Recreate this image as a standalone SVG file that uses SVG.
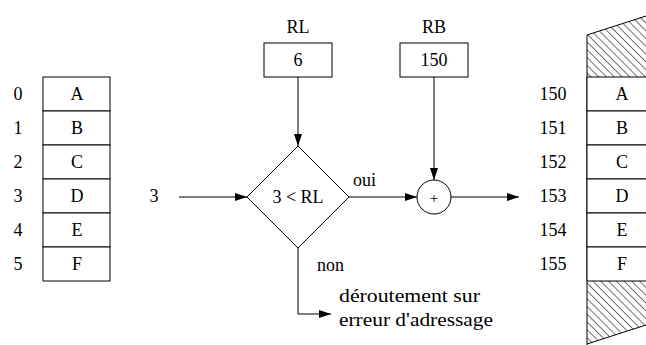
<svg xmlns="http://www.w3.org/2000/svg" width="646" height="345" viewBox="0 0 646 345">
<style>
text{font-family:Liberation Serif,serif;font-size:18px;fill:#000}
.c{text-anchor:middle}
.b{fill:#fff;stroke:#000;stroke-width:1}
.l{fill:none;stroke:#000;stroke-width:1}
</style>
<defs>
<marker id="ah" viewBox="0 0 12 8" refX="12" refY="4" markerWidth="12" markerHeight="8" markerUnits="userSpaceOnUse" orient="auto">
<path d="M0,0 L12,4 L0,8 Z" fill="#000"/>
</marker>
<pattern id="hatch" width="5.5" height="5.5" patternUnits="userSpaceOnUse" patternTransform="rotate(-45)">
<line x1="0" y1="0" x2="0" y2="5.5" stroke="#000" stroke-width="1.1"/>
</pattern>
</defs>
<rect width="646" height="345" fill="#fff"/>

<g id="mem-left">
<rect class="b" x="43" y="77" width="67" height="34"/>
<rect class="b" x="43" y="111" width="67" height="34"/>
<rect class="b" x="43" y="145" width="67" height="34"/>
<rect class="b" x="43" y="179" width="67" height="34"/>
<rect class="b" x="43" y="213" width="67" height="34"/>
<rect class="b" x="43" y="247" width="67" height="34"/>
<text class="c" x="77" y="100">A</text>
<text class="c" x="77" y="134">B</text>
<text class="c" x="77" y="168">C</text>
<text class="c" x="77" y="202">D</text>
<text class="c" x="77" y="236">E</text>
<text class="c" x="77" y="270">F</text>
<text class="c" x="18" y="100">0</text>
<text class="c" x="18" y="134">1</text>
<text class="c" x="18" y="168">2</text>
<text class="c" x="18" y="202">3</text>
<text class="c" x="18" y="236">4</text>
<text class="c" x="18" y="270">5</text>
</g>

<g id="input-3">
<text class="c" x="154" y="202">3</text>
</g>

<g id="reg-RL">
<text class="c" x="298" y="33">RL</text>
<rect class="b" x="264" y="43" width="68" height="34"/>
<text class="c" x="298" y="66">6</text>
</g>

<g id="reg-RB">
<text class="c" x="434" y="33">RB</text>
<rect class="b" x="400" y="43" width="68" height="34"/>
<text class="c" x="434" y="66">150</text>
</g>

<g id="decision">
<polygon class="b" points="298,146 349,197 298,248 247,197"/>
<text class="c" x="298" y="203">3 &lt; RL</text>
</g>

<g id="adder">
<circle class="b" cx="434" cy="197" r="17"/>
<text class="c" x="434" y="203" style="font-size:15px">+</text>
</g>

<g id="mem-right">
<polygon points="587,77 587,35 646,16 646,77" fill="url(#hatch)"/>
<polygon points="587,281 587,344 646,325 646,281" fill="url(#hatch)"/>
<polyline class="l" points="646,16 587,35 587,345"/>
<line class="l" x1="587" y1="344" x2="646" y2="325"/>
<rect class="b" x="587" y="77" width="70" height="34"/>
<rect class="b" x="587" y="111" width="70" height="34"/>
<rect class="b" x="587" y="145" width="70" height="34"/>
<rect class="b" x="587" y="179" width="70" height="34"/>
<rect class="b" x="587" y="213" width="70" height="34"/>
<rect class="b" x="587" y="247" width="70" height="34"/>
<text class="c" x="622" y="100">A</text>
<text class="c" x="622" y="134">B</text>
<text class="c" x="622" y="168">C</text>
<text class="c" x="622" y="202">D</text>
<text class="c" x="622" y="236">E</text>
<text class="c" x="622" y="270">F</text>
<text class="c" x="553" y="100">150</text>
<text class="c" x="553" y="134">151</text>
<text class="c" x="553" y="168">152</text>
<text class="c" x="553" y="202">153</text>
<text class="c" x="553" y="236">154</text>
<text class="c" x="553" y="270">155</text>
</g>

<g id="trap">
<text x="339" y="302" textLength="141" lengthAdjust="spacingAndGlyphs">déroutement sur</text>
<text x="339" y="326" textLength="154" lengthAdjust="spacingAndGlyphs">erreur d'adressage</text>
</g>

<g id="connectors">
<line class="l" x1="179" y1="197" x2="247" y2="197" marker-end="url(#ah)"/>
<line class="l" x1="298" y1="77" x2="298" y2="146" marker-end="url(#ah)"/>
<line class="l" x1="434" y1="77" x2="434" y2="180" marker-end="url(#ah)"/>
<line class="l" x1="349" y1="197" x2="417" y2="197" marker-end="url(#ah)"/>
<line class="l" x1="451" y1="197" x2="519" y2="197" marker-end="url(#ah)"/>
<polyline class="l" points="298,248 298,314 331,314" marker-end="url(#ah)"/>
<text x="353" y="186">oui</text>
<text x="317" y="271">non</text>
</g>
</svg>
